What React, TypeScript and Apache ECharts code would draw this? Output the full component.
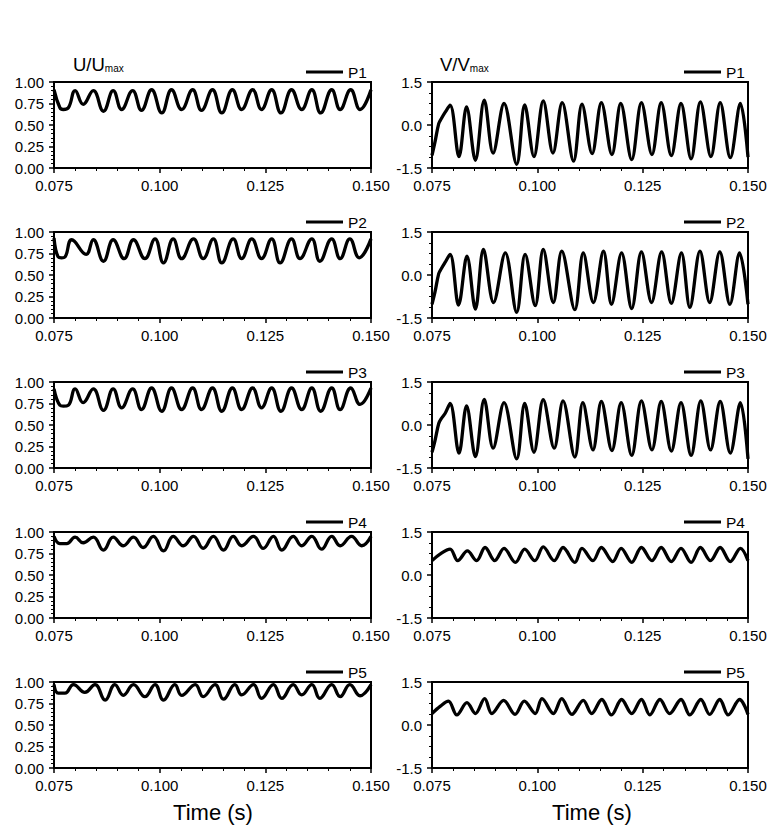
import { useEffect, useRef } from "react";
import * as echarts from "echarts";

// ---------- data (time in s) ----------
const uT1 = [0.0750, 0.0764, 0.0772, 0.0784, 0.0800, 0.0819, 0.0843, 0.0867, 0.0890, 0.0910, 0.0936, 0.0957, 0.0981, 0.1005, 0.1028, 0.1052, 0.1078, 0.1099, 0.1125, 0.1147, 0.1172, 0.1194, 0.1220, 0.1241, 0.1265, 0.1287, 0.1312, 0.1336, 0.1360, 0.1381, 0.1407, 0.1427, 0.1452, 0.1474, 0.1500];
const uV1 = [0.91, 0.70, 0.68, 0.70, 0.90, 0.74, 0.90, 0.66, 0.90, 0.68, 0.90, 0.67, 0.91, 0.64, 0.91, 0.68, 0.91, 0.67, 0.91, 0.64, 0.91, 0.68, 0.91, 0.68, 0.91, 0.64, 0.91, 0.68, 0.91, 0.64, 0.91, 0.68, 0.91, 0.68, 0.91];

const uT2 = [0.0750, 0.0760, 0.0768, 0.0776, 0.0792, 0.0826, 0.0843, 0.0867, 0.0890, 0.0916, 0.0938, 0.0965, 0.0989, 0.1009, 0.1032, 0.1052, 0.1080, 0.1103, 0.1127, 0.1147, 0.1174, 0.1194, 0.1218, 0.1241, 0.1265, 0.1285, 0.1312, 0.1332, 0.1360, 0.1379, 0.1407, 0.1427, 0.1450, 0.1472, 0.1500];
const uV2 = [0.93, 0.71, 0.70, 0.71, 0.91, 0.74, 0.91, 0.66, 0.91, 0.69, 0.91, 0.69, 0.92, 0.64, 0.92, 0.69, 0.92, 0.69, 0.92, 0.64, 0.92, 0.69, 0.92, 0.69, 0.92, 0.64, 0.92, 0.69, 0.92, 0.66, 0.92, 0.69, 0.92, 0.70, 0.92];

const uT3 = [0.0750, 0.0764, 0.0772, 0.0784, 0.0800, 0.0819, 0.0843, 0.0867, 0.0890, 0.0910, 0.0936, 0.0957, 0.0981, 0.1005, 0.1028, 0.1052, 0.1078, 0.1099, 0.1125, 0.1147, 0.1172, 0.1194, 0.1220, 0.1241, 0.1265, 0.1287, 0.1312, 0.1336, 0.1360, 0.1381, 0.1407, 0.1427, 0.1452, 0.1474, 0.1500];
const uV3 = [0.92, 0.73, 0.72, 0.73, 0.92, 0.76, 0.92, 0.67, 0.92, 0.70, 0.92, 0.68, 0.93, 0.66, 0.93, 0.68, 0.93, 0.68, 0.93, 0.66, 0.93, 0.68, 0.93, 0.70, 0.93, 0.66, 0.93, 0.68, 0.93, 0.66, 0.93, 0.68, 0.93, 0.74, 0.93];

const uT4 = [0.0750, 0.0764, 0.0780, 0.0800, 0.0819, 0.0843, 0.0867, 0.0890, 0.0914, 0.0938, 0.0961, 0.0985, 0.1009, 0.1032, 0.1056, 0.1080, 0.1103, 0.1127, 0.1151, 0.1174, 0.1194, 0.1222, 0.1245, 0.1269, 0.1289, 0.1316, 0.1336, 0.1360, 0.1383, 0.1407, 0.1427, 0.1454, 0.1478, 0.1500];
const uV4 = [0.95, 0.865, 0.865, 0.94, 0.875, 0.94, 0.79, 0.94, 0.84, 0.94, 0.82, 0.95, 0.78, 0.95, 0.84, 0.95, 0.81, 0.95, 0.79, 0.95, 0.84, 0.95, 0.81, 0.95, 0.79, 0.95, 0.84, 0.95, 0.80, 0.95, 0.84, 0.95, 0.84, 0.95];

const uT5 = [0.0750, 0.0760, 0.0776, 0.0796, 0.0823, 0.0847, 0.0871, 0.0894, 0.0914, 0.0938, 0.0965, 0.0989, 0.1009, 0.1036, 0.1052, 0.1084, 0.1103, 0.1131, 0.1151, 0.1178, 0.1194, 0.1222, 0.1241, 0.1269, 0.1289, 0.1316, 0.1336, 0.1360, 0.1379, 0.1407, 0.1427, 0.1450, 0.1474, 0.1500];
const uV5 = [0.97, 0.87, 0.87, 0.97, 0.88, 0.97, 0.79, 0.97, 0.845, 0.97, 0.83, 0.97, 0.79, 0.97, 0.845, 0.97, 0.83, 0.97, 0.80, 0.97, 0.85, 0.97, 0.81, 0.97, 0.81, 0.97, 0.85, 0.97, 0.81, 0.97, 0.83, 0.97, 0.84, 0.97];

const vT1 = [0.0750, 0.0757, 0.0766, 0.0772, 0.0781, 0.0793, 0.0814, 0.0832, 0.0853, 0.0874, 0.0895, 0.0921, 0.0951, 0.0970, 0.0992, 0.1014, 0.1037, 0.1059, 0.1086, 0.1106, 0.1130, 0.1152, 0.1177, 0.1198, 0.1224, 0.1247, 0.1272, 0.1294, 0.1318, 0.1341, 0.1365, 0.1387, 0.1412, 0.1434, 0.1458, 0.1482, 0.1500];
const vV1 = [-1.06, -0.60, 0.05, 0.22, 0.44, 0.69, -1.10, 0.63, -1.23, 0.87, -0.98, 0.75, -1.37, 0.70, -1.10, 0.84, -0.98, 0.78, -1.26, 0.73, -1.00, 0.78, -1.03, 0.75, -1.21, 0.78, -1.03, 0.78, -1.07, 0.75, -1.18, 0.81, -1.10, 0.78, -1.14, 0.75, -1.12];

const vT2 = [0.0750, 0.0757, 0.0766, 0.0772, 0.0781, 0.0793, 0.0813, 0.0833, 0.0853, 0.0872, 0.0896, 0.0924, 0.0951, 0.0971, 0.0995, 0.1014, 0.1038, 0.1058, 0.1089, 0.1109, 0.1133, 0.1157, 0.1176, 0.1200, 0.1224, 0.1247, 0.1271, 0.1295, 0.1318, 0.1342, 0.1362, 0.1386, 0.1409, 0.1433, 0.1457, 0.1480, 0.1500];
const vV2 = [-1.02, -0.60, 0.05, 0.22, 0.44, 0.72, -1.05, 0.66, -1.19, 0.89, -0.96, 0.77, -1.30, 0.72, -1.07, 0.89, -0.96, 0.83, -1.21, 0.77, -0.96, 0.83, -1.02, 0.77, -1.17, 0.81, -0.96, 0.81, -0.99, 0.77, -1.13, 0.83, -0.96, 0.81, -1.02, 0.77, -1.02];

const vT3 = [0.0750, 0.0757, 0.0766, 0.0772, 0.0781, 0.0793, 0.0814, 0.0832, 0.0853, 0.0874, 0.0895, 0.0921, 0.0951, 0.0970, 0.0992, 0.1014, 0.1040, 0.1061, 0.1089, 0.1108, 0.1132, 0.1152, 0.1177, 0.1199, 0.1224, 0.1247, 0.1272, 0.1294, 0.1318, 0.1341, 0.1365, 0.1388, 0.1411, 0.1434, 0.1458, 0.1482, 0.1500];
const vV3 = [-0.95, -0.55, 0.05, 0.22, 0.40, 0.75, -0.98, 0.67, -1.10, 0.89, -0.81, 0.78, -1.18, 0.75, -0.95, 0.88, -0.81, 0.84, -1.12, 0.78, -0.87, 0.82, -0.89, 0.78, -1.06, 0.84, -0.87, 0.82, -0.91, 0.78, -1.06, 0.84, -0.87, 0.82, -0.98, 0.78, -1.18];

const vT4 = [0.0750, 0.0769, 0.0793, 0.0811, 0.0834, 0.0856, 0.0876, 0.0899, 0.0921, 0.0948, 0.0970, 0.0994, 0.1014, 0.1040, 0.1061, 0.1089, 0.1106, 0.1132, 0.1152, 0.1179, 0.1199, 0.1224, 0.1247, 0.1272, 0.1294, 0.1318, 0.1341, 0.1365, 0.1387, 0.1411, 0.1434, 0.1458, 0.1482, 0.1500];
const vV4 = [0.50, 0.73, 0.90, 0.50, 0.84, 0.50, 0.96, 0.50, 0.93, 0.44, 0.90, 0.50, 0.98, 0.50, 0.96, 0.44, 0.93, 0.50, 0.96, 0.47, 0.93, 0.44, 0.96, 0.50, 0.96, 0.47, 0.93, 0.44, 0.96, 0.50, 0.96, 0.47, 0.93, 0.50];

const vT5 = [0.0750, 0.0770, 0.0789, 0.0809, 0.0833, 0.0853, 0.0875, 0.0892, 0.0920, 0.0947, 0.0969, 0.0995, 0.1011, 0.1038, 0.1058, 0.1082, 0.1109, 0.1129, 0.1153, 0.1176, 0.1200, 0.1224, 0.1247, 0.1267, 0.1291, 0.1314, 0.1341, 0.1362, 0.1388, 0.1409, 0.1433, 0.1453, 0.1480, 0.1500];
const vV5 = [0.40, 0.66, 0.83, 0.35, 0.78, 0.40, 0.92, 0.40, 0.86, 0.37, 0.83, 0.40, 0.92, 0.40, 0.92, 0.37, 0.86, 0.40, 0.89, 0.35, 0.89, 0.40, 0.89, 0.35, 0.89, 0.40, 0.89, 0.35, 0.89, 0.37, 0.89, 0.35, 0.89, 0.37];

const probeNames = ["P1", "P2", "P3", "P4", "P5"];
const uTimes = [uT1, uT2, uT3, uT4, uT5];
const uValues = [uV1, uV2, uV3, uV4, uV5];
const vTimes = [vT1, vT2, vT3, vT4, vT5];
const vValues = [vV1, vV2, vV3, vV4, vV5];

const xTicks = { min: 0.075, max: 0.15, interval: 0.025 };
const uTicks = { min: 0, max: 1, interval: 0.25 };
const vTicks = { min: -1.5, max: 1.5, interval: 1.5 };

const FONT = "'Liberation Sans', Arial, Helvetica, sans-serif";

export default function App() {
  const ref = useRef<HTMLDivElement>(null);

  useEffect(() => {
    document.body.style.margin = "0";
    const chart = echarts.init(ref.current!, null, { renderer: "svg" });

    const grids: any[] = [];
    const xAxes: any[] = [];
    const yAxes: any[] = [];
    const series: any[] = [];
    const legends: any[] = [];

    const axisCommon = {
      axisLine: { show: true, onZero: false, lineStyle: { color: "#000", width: 2 } },
      axisTick: { show: true, inside: false, length: 5, lineStyle: { color: "#000", width: 1.5 } },
      minorTick: { show: true, length: 3, lineStyle: { color: "#000", width: 1 } },
      splitLine: { show: false },
    };

    for (let i = 0; i < 5; i++) {
      const top = 82 + 150 * i;
      for (let side = 0; side < 2; side++) {
        const idx = i * 2 + side;
        grids.push({
          left: side === 0 ? 54 : 432,
          top,
          width: side === 0 ? 317 : 316,
          height: 86,
          show: true,
          borderColor: "#000",
          borderWidth: 2,
          backgroundColor: "transparent",
        });
        xAxes.push({
          gridIndex: idx,
          type: "value",
          ...xTicks,
          ...axisCommon,
          minorTick: { ...axisCommon.minorTick, splitNumber: 5 },
          axisLabel: {
            color: "#000",
            fontSize: 15,
            fontFamily: FONT,
            margin: 10,
            showMinLabel: true,
            showMaxLabel: true,
            formatter: (v: number) => v.toFixed(3),
          },
        });
        const yt = side === 0 ? uTicks : vTicks;
        yAxes.push({
          gridIndex: idx,
          type: "value",
          ...yt,
          ...axisCommon,
          minorTick: { ...axisCommon.minorTick, splitNumber: side === 0 ? 5 : 4 },
          axisLabel: {
            color: "#000",
            fontSize: 15,
            fontFamily: FONT,
            margin: 10,
            showMinLabel: true,
            showMaxLabel: true,
            formatter: (v: number) => (side === 0 ? v.toFixed(2) : v.toFixed(1)),
          },
        });
        const ts = side === 0 ? uTimes[i] : vTimes[i];
        const vs = side === 0 ? uValues[i] : vValues[i];
        series.push({
          type: "line",
          name: probeNames[i],
          xAxisIndex: idx,
          yAxisIndex: idx,
          data: ts.map((t, k) => [t, vs[k]]),
          showSymbol: false,
          symbol: "none",
          smooth: side === 0 ? 0.45 : 0.35,
          clip: true,
          lineStyle: { color: "#000", width: 3.3 },
          itemStyle: { color: "#000" },
        });
        legends.push({
          data: [probeNames[i]],
          left: side === 0 ? 306 : 684,
          top: 64 + 150 * i,
          padding: 0,
          icon: "rect",
          itemWidth: 37,
          itemHeight: 3,
          selectedMode: false,
          textStyle: { color: "#000", fontSize: 15.5, fontFamily: FONT },
        });
      }
    }

    const graphic = [
      {
        type: "text",
        x: 73,
        y: 64,
        style: {
          text: "{a|U/U}{b|max}",
          verticalAlign: "middle",
          textVerticalAlign: "middle",
          fill: "#000",
          rich: {
            a: { fontSize: 18.5, fontFamily: FONT, fill: "#000" },
            b: { fontSize: 10, fontFamily: FONT, fill: "#000", verticalAlign: "bottom" },
          },
        },
      },
      {
        type: "text",
        x: 440,
        y: 64,
        style: {
          text: "{a|V/V}{b|max}",
          verticalAlign: "middle",
          textVerticalAlign: "middle",
          fill: "#000",
          rich: {
            a: { fontSize: 18.5, fontFamily: FONT, fill: "#000" },
            b: { fontSize: 10, fontFamily: FONT, fill: "#000", verticalAlign: "bottom" },
          },
        },
      },
      {
        type: "text",
        x: 213,
        y: 812,
        style: {
          text: "Time (s)",
          fontSize: 22,
          fontFamily: FONT,
          fill: "#000",
          align: "center",
          verticalAlign: "middle",
          textAlign: "center",
          textVerticalAlign: "middle",
        },
      },
      {
        type: "text",
        x: 592,
        y: 812,
        style: {
          text: "Time (s)",
          fontSize: 22,
          fontFamily: FONT,
          fill: "#000",
          align: "center",
          verticalAlign: "middle",
          textAlign: "center",
          textVerticalAlign: "middle",
        },
      },
    ];

    chart.setOption({
      animation: false,
      backgroundColor: "#fff",
      color: ["#000"],
      textStyle: { fontFamily: FONT },
      grid: grids,
      xAxis: xAxes,
      yAxis: yAxes,
      legend: legends,
      series,
      graphic,
    });

    return () => chart.dispose();
  }, []);

  return <div ref={ref} style={{ width: 777, height: 831 }} />;
}
